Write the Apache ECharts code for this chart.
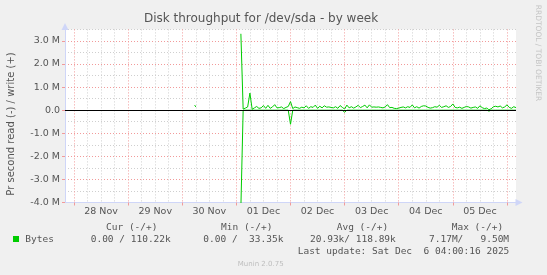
<!DOCTYPE html>
<html>
<head>
<meta charset="utf-8">
<script src="https://cdn.jsdelivr.net/npm/echarts@6/dist/echarts.min.js"></script>
<style>
html,body{margin:0;padding:0;background:#f0f0f0;}
#c{width:547px;height:275px;}
</style>
</head>
<body>
<div id="c"></div>
<script>
// ---- data (hours since 27 Nov 00:00, values in M bytes/s) ----
const xMin = 20;            // 27 Nov 20:00
const xMax = 220;           // 06 Dec 04:00
const dayLabels = ['28 Nov','29 Nov','30 Nov','01 Dec','02 Dec','03 Dec','04 Dec','05 Dec'];
const dayLabelHours = [36, 60, 84, 108, 132, 156, 180, 204];
const midnightHours = [24, 48, 72, 96, 120, 144, 168, 192, 216];
const sixHourGrid = [30,36,42, 54,60,66, 78,84,90, 102,108,114, 126,132,138, 150,156,162, 174,180,186, 198,204,210];
const yMajorTicks = [-4, -3, -2, -1, 0, 1, 2, 3];
const yMajorLabels = ['-4.0 M','-3.0 M','-2.0 M','-1.0 M','0.0','1.0 M','2.0 M','3.0 M'];
const yMinorTicks = [-3.5, -2.5, -1.5, -0.5, 0.5, 1.5, 2.5, 3.5];

const blipHours = [77.5, 78];
const blipValues = [0.22, 0.14];

const seriesStartHour = 98;  // 01 Dec 02:00, hourly samples
const writeValues = [
  3.31, 0.05, 0.09, 0.14, 0.74, 0.04, 0.10, 0.16, 0.08, 0.10,
  0.20, 0.08, 0.21, 0.08, 0.14, 0.24, 0.10, 0.11, 0.14, 0.07,
  0.12, 0.16, 0.37, 0.07, 0.14, 0.11, 0.08, 0.13, 0.10, 0.19,
  0.08, 0.15, 0.12, 0.22, 0.08, 0.17, 0.10, 0.19, 0.13, 0.14,
  0.12, 0.10, 0.15, 0.08, 0.20, 0.12, 0.05, 0.22, 0.10, 0.15,
  0.09, 0.14, 0.21, 0.11, 0.16, 0.22, 0.10, 0.23, 0.13, 0.14,
  0.13, 0.14, 0.12, 0.10, 0.14, 0.24, 0.11, 0.12, 0.08, 0.07,
  0.09, 0.12, 0.14, 0.10, 0.15, 0.12, 0.23, 0.10, 0.15, 0.09,
  0.16, 0.19, 0.18, 0.12, 0.09, 0.11, 0.15, 0.13, 0.21, 0.12,
  0.15, 0.19, 0.12, 0.16, 0.27, 0.12, 0.10, 0.13, 0.08, 0.12,
  0.16, 0.14, 0.09, 0.12, 0.14, 0.08, 0.19, 0.11, 0.07, 0.09,
  0.02, 0.06, 0.15, 0.17, 0.14, 0.18, 0.10, 0.14, 0.23, 0.12,
  0.08, 0.15, 0.11
];
const readValues = [
  -4.2, 0, 0, 0, 0, 0, 0, 0, 0, 0,
  0, 0, 0, 0, 0, 0, 0, 0, 0, 0,
  0, 0, -0.61, 0, 0, 0, 0, 0, 0, 0,
  0, 0, 0, 0, 0, 0, 0, 0, 0, 0,
  0, 0, 0, 0, 0, 0, -0.09, 0, 0, 0,
  0, 0, 0, 0, 0, 0, 0, 0, 0, 0,
  0, 0, 0, 0, 0, 0, 0, 0, 0, 0,
  0, 0, 0, 0, 0, 0, 0, 0, 0, 0,
  0, 0, 0, 0, 0, 0, 0, 0, 0, 0,
  0, 0, 0, 0, 0, 0, 0, 0, 0, 0,
  0, 0, 0, 0, 0, 0, 0, 0, 0, 0,
  -0.04, 0, 0, 0, 0, 0, 0, 0, 0, 0,
  0, 0, 0
];

const titleText = 'Disk throughput for /dev/sda - by week';
const yAxisTitle = 'Pr second read (-) / write (+)';
const legendHeaders = ['Cur (-/+)', 'Min (-/+)', 'Avg (-/+)', 'Max (-/+)'];
const legendName = 'Bytes';
const legendValues = ['0.00 / 110.22k', '0.00 /  33.35k', '20.93k/ 118.89k', '7.17M/   9.50M'];
const lastUpdate = 'Last update: Sat Dec  6 04:00:16 2025';
const footer = 'Munin 2.0.75';
const sideText = 'RRDTOOL / TOBI OETIKER';

// ---- build ----
const green = '#00cc00';
const textColor = '#555555';
const sans = '"DejaVu Sans", sans-serif';
const mono = '"DejaVu Sans Mono", monospace';

const writeData = writeValues.map((v, i) => [seriesStartHour + i, v]);
const readData = readValues.map((v, i) => [seriesStartHour + i, v]);
const blipData = blipValues.map((v, i) => [blipHours[i], v]);

const chart = echarts.init(document.getElementById('c'), null, {renderer: 'canvas', width: 547, height: 275});

const headerX = [106, 221, 336.7, 451.7];
const valueX = [90.7, 203.3, 310, 429];

const graphics = [
  {type: 'text', x: 261, y: 19, style: {text: titleText, font: '12px ' + sans, fill: textColor, align: 'center', verticalAlign: 'middle'}},
  {type: 'text', x: 11, y: 124, rotation: Math.PI / 2, style: {text: yAxisTitle, font: '10px ' + sans, fill: textColor, align: 'center', verticalAlign: 'middle'}},
  {type: 'text', x: 537.5, y: 53, rotation: -Math.PI / 2, style: {text: sideText, font: '7.5px ' + sans, fill: '#c4c4c4', align: 'center', verticalAlign: 'middle'}},
  {type: 'rect', shape: {x: 13, y: 236, width: 6, height: 6}, style: {fill: green}},
  {type: 'text', x: 25.3, y: 239.5, style: {text: legendName, font: '9.5px ' + mono, fill: textColor, align: 'left', verticalAlign: 'middle'}},
  {type: 'text', x: 297.7, y: 251.8, style: {text: lastUpdate, font: '9.5px ' + mono, fill: textColor, align: 'left', verticalAlign: 'middle'}},
  {type: 'text', x: 260.7, y: 264, style: {text: footer, font: '7px ' + sans, fill: '#bdbdbd', align: 'center', verticalAlign: 'middle'}}
];
legendHeaders.forEach((t, i) => graphics.push({type: 'text', x: headerX[i], y: 227.8, style: {text: t, font: '9.5px ' + mono, fill: textColor, align: 'left', verticalAlign: 'middle'}}));
legendValues.forEach((t, i) => graphics.push({type: 'text', x: valueX[i], y: 239.5, style: {text: t, font: '9.5px ' + mono, fill: textColor, align: 'left', verticalAlign: 'middle'}}));

const gridGrey = '#cfcfcf';
const gridRed = '#f29a9a';
const axisBlue = '#cfd6f8';

const option = {
  animation: false,
  backgroundColor: '#f0f0f0',
  grid: {left: 65, right: 31, top: 29.4, bottom: 72.5, show: true, backgroundColor: '#ffffff', borderWidth: 0},
  xAxis: [
    {
      type: 'value', min: xMin, max: xMax, position: 'bottom',
      axisLine: {show: false, onZero: false},
      axisTick: {show: false, customValues: sixHourGrid},
      axisLabel: {show: false},
      splitLine: {show: true, lineStyle: {color: gridGrey, width: 1, type: [1, 2]}}
    },
    {
      type: 'value', min: xMin, max: xMax, position: 'bottom',
      axisLine: {show: true, onZero: false, lineStyle: {color: axisBlue, width: 1}, symbol: ['none', 'triangle'], symbolSize: [7, 7], symbolOffset: [0, 3]},
      axisTick: {show: true, customValues: midnightHours, length: 3, lineStyle: {color: gridRed}},
      axisLabel: {show: true, customValues: dayLabelHours, margin: 4, color: textColor, fontSize: 9.5, fontFamily: 'DejaVu Sans',
        formatter: v => dayLabels[dayLabelHours.indexOf(v)] || ''},
      splitLine: {show: true, lineStyle: {color: gridRed, width: 1, type: [1, 2]}}
    }
  ],
  yAxis: [
    {
      type: 'value', min: -4, max: 3.5, position: 'left',
      axisLine: {show: false, onZero: false},
      axisTick: {show: false, customValues: yMinorTicks},
      axisLabel: {show: false},
      splitLine: {show: true, lineStyle: {color: gridGrey, width: 1, type: [1, 2]}}
    },
    {
      type: 'value', min: -4, max: 3.5, position: 'left',
      axisLine: {show: true, onZero: false, lineStyle: {color: axisBlue, width: 1}, symbol: ['none', 'triangle'], symbolSize: [7, 7], symbolOffset: [0, 3]},
      axisTick: {show: true, customValues: yMajorTicks, length: 3, lineStyle: {color: gridRed}},
      axisLabel: {show: true, customValues: yMajorTicks, margin: 5, color: textColor, fontSize: 9.5, fontFamily: 'DejaVu Sans',
        formatter: v => yMajorLabels[yMajorTicks.indexOf(v)] || ''},
      splitLine: {show: true, lineStyle: {color: gridRed, width: 1, type: [1, 2]}}
    }
  ],
  series: [
    {name: legendName, type: 'line', xAxisIndex: 1, yAxisIndex: 1, data: blipData, symbol: 'none', lineStyle: {color: green, width: 1}, clip: true, silent: true},
    {name: legendName, type: 'line', xAxisIndex: 1, yAxisIndex: 1, data: writeData, symbol: 'none', lineStyle: {color: green, width: 1}, clip: true, silent: true},
    {name: legendName, type: 'line', xAxisIndex: 1, yAxisIndex: 1, data: readData, symbol: 'none', lineStyle: {color: green, width: 1}, clip: true, silent: true,
      markLine: {silent: true, symbol: ['none', 'none'], label: {show: false}, lineStyle: {color: '#000000', width: 1.2, type: 'solid'}, data: [{yAxis: 0}]}}
  ],
  graphic: graphics
};
chart.setOption(option);
</script>
</body>
</html>
